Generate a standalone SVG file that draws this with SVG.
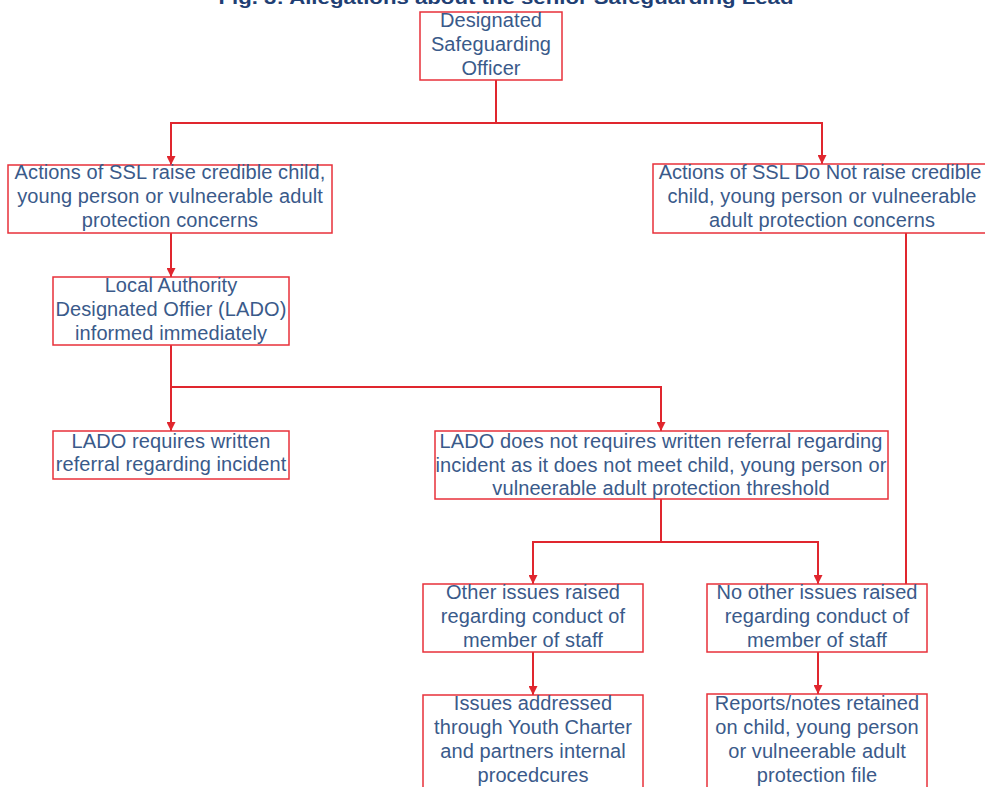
<svg xmlns="http://www.w3.org/2000/svg" width="985" height="787" viewBox="0 0 985 787">
<style>
.box{fill:#ffffff;stroke:#e8303a;stroke-width:1.5}
.t{font-family:"Liberation Sans",Arial,Helvetica,sans-serif;font-size:20px;letter-spacing:0.1px;fill:#3a5a8a;text-anchor:middle}
.title{font-family:"Liberation Sans",Arial,sans-serif;font-weight:bold;font-size:19px;fill:#1f3f74;text-anchor:middle}
.c{fill:none;stroke:#e0262e;stroke-width:2}
</style>
<defs>
<marker id="ah" viewBox="0 0 10 10" refX="10" refY="5" markerWidth="9" markerHeight="9" markerUnits="userSpaceOnUse" orient="auto">
<path d="M0,0 L10,5 L0,10 Z" fill="#e0262e"/>
</marker>
</defs>
<rect width="985" height="787" fill="#ffffff"/>
<text class="title" x="506" y="4" textLength="575" lengthAdjust="spacingAndGlyphs">Fig. 3: Allegations about the senior Safeguarding Lead</text>
<g id="connectors">
<path class="c" d="M496,80 V123 H171 V165" marker-end="url(#ah)"/>
<path class="c" d="M496,123 H822 V164" marker-end="url(#ah)"/>
<path class="c" d="M171,233 V277" marker-end="url(#ah)"/>
<path class="c" d="M171,345 V387 V431" marker-end="url(#ah)"/>
<path class="c" d="M171,387 H661 V431" marker-end="url(#ah)"/>
<path class="c" d="M661,499 V542 H533 V584" marker-end="url(#ah)"/>
<path class="c" d="M661,542 H818 V584" marker-end="url(#ah)"/>
<path class="c" d="M906,233 V584"/>
<path class="c" d="M533,652 V695" marker-end="url(#ah)"/>
<path class="c" d="M818,652 V694" marker-end="url(#ah)"/>
</g>
<g id="n1"><rect class="box" x="420" y="12" width="142" height="68"/>
<text class="t" x="491" y="27">Designated</text><text class="t" x="491" y="51">Safeguarding</text><text class="t" x="491" y="75">Officer</text></g>
<g id="n2"><rect class="box" x="8" y="165" width="324" height="68"/>
<text class="t" x="170" y="179">Actions of SSL raise credible child,</text><text class="t" x="170" y="203">young person or vulneerable adult</text><text class="t" x="170" y="227">protection concerns</text></g>
<g id="n3"><rect class="box" x="653" y="164" width="340" height="69"/>
<text class="t" x="820" y="179" style="letter-spacing:0">Actions of SSL Do Not raise credible</text><text class="t" x="822" y="203">child, young person or vulneerable</text><text class="t" x="822" y="227">adult protection concerns</text></g>
<g id="n4"><rect class="box" x="53" y="277" width="236" height="68"/>
<text class="t" x="171" y="292">Local Authority</text><text class="t" x="171" y="316">Designated Offier (LADO)</text><text class="t" x="171" y="340">informed immediately</text></g>
<g id="n5"><rect class="box" x="53" y="431" width="236" height="48"/>
<text class="t" x="171" y="448">LADO requires written</text><text class="t" x="171" y="471">referral regarding incident</text></g>
<g id="n6"><rect class="box" x="435" y="431" width="453" height="68"/>
<text class="t" x="661" y="448">LADO does not requires written referral regarding</text><text class="t" x="661" y="472">incident as it does not meet child, young person or</text><text class="t" x="661" y="495">vulneerable adult protection threshold</text></g>
<g id="n7"><rect class="box" x="423" y="584" width="220" height="68"/>
<text class="t" x="533" y="599">Other issues raised</text><text class="t" x="533" y="623">regarding conduct of</text><text class="t" x="533" y="647">member of staff</text></g>
<g id="n8"><rect class="box" x="707" y="584" width="220" height="68"/>
<text class="t" x="817" y="599">No other issues raised</text><text class="t" x="817" y="623">regarding conduct of</text><text class="t" x="817" y="647">member of staff</text></g>
<g id="n9"><rect class="box" x="423" y="695" width="220" height="100"/>
<text class="t" x="533" y="710">Issues addressed</text><text class="t" x="533" y="734">through Youth Charter</text><text class="t" x="533" y="758">and partners internal</text><text class="t" x="533" y="782">procedcures</text></g>
<g id="n10"><rect class="box" x="707" y="694" width="220" height="100"/>
<text class="t" x="817" y="710">Reports/notes retained</text><text class="t" x="817" y="734">on child, young person</text><text class="t" x="817" y="758">or vulneerable adult</text><text class="t" x="817" y="782">protection file</text></g>
</svg>
